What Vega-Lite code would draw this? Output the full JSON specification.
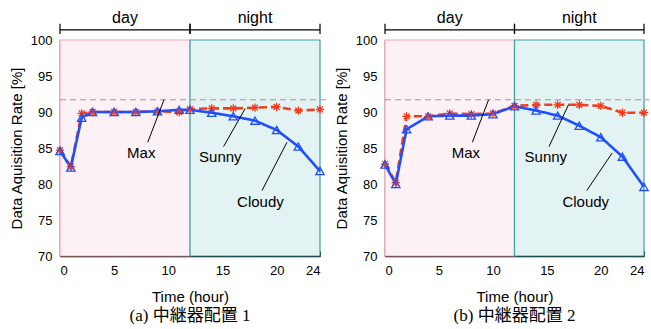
{
  "$schema": "https://vega.github.io/schema/vega-lite/v6.json",
  "background": "white",
  "padding": {"left": 9, "top": 9, "right": 0, "bottom": 0},
  "config": {
    "view": {"stroke": null},
    "axis": {
      "grid": false,
      "domainColor": "black",
      "domainWidth": 1.5,
      "tickColor": "black",
      "tickSize": -5,
      "labelFont": "Liberation Sans",
      "labelFontSize": 13,
      "labelColor": "black",
      "labelOverlap": false,
      "titleFont": "Liberation Sans",
      "titleFontSize": 15,
      "titleFontWeight": "normal",
      "titleColor": "black"
    },
    "axisX": {"labelPadding": 13, "titlePadding": 12},
    "axisY": {"labelPadding": 13, "titlePadding": 6}
  },
  "datasets": {
    "one": [{}],
    "periods": [
      {"period": "day", "start": 0, "end": 12},
      {"period": "night", "start": 12, "end": 24}
    ],
    "a": [
      {"hour": 0, "weather": "Sunny", "rate": 84.7},
      {"hour": 1, "weather": "Sunny", "rate": 82.4},
      {"hour": 2, "weather": "Sunny", "rate": 89.8},
      {"hour": 3, "weather": "Sunny", "rate": 90.0},
      {"hour": 5, "weather": "Sunny", "rate": 90.0},
      {"hour": 7, "weather": "Sunny", "rate": 90.0},
      {"hour": 9, "weather": "Sunny", "rate": 90.1},
      {"hour": 11, "weather": "Sunny", "rate": 90.0},
      {"hour": 12, "weather": "Sunny", "rate": 90.4},
      {"hour": 14, "weather": "Sunny", "rate": 90.5},
      {"hour": 16, "weather": "Sunny", "rate": 90.5},
      {"hour": 18, "weather": "Sunny", "rate": 90.6},
      {"hour": 20, "weather": "Sunny", "rate": 90.7},
      {"hour": 22, "weather": "Sunny", "rate": 90.2},
      {"hour": 24, "weather": "Sunny", "rate": 90.35},
      {"hour": 0, "weather": "Cloudy", "rate": 84.6},
      {"hour": 1, "weather": "Cloudy", "rate": 82.3},
      {"hour": 2, "weather": "Cloudy", "rate": 89.2},
      {"hour": 3, "weather": "Cloudy", "rate": 90.0},
      {"hour": 5, "weather": "Cloudy", "rate": 90.0},
      {"hour": 7, "weather": "Cloudy", "rate": 90.0},
      {"hour": 9, "weather": "Cloudy", "rate": 90.1},
      {"hour": 11, "weather": "Cloudy", "rate": 90.3},
      {"hour": 12, "weather": "Cloudy", "rate": 90.3},
      {"hour": 14, "weather": "Cloudy", "rate": 89.9},
      {"hour": 16, "weather": "Cloudy", "rate": 89.4},
      {"hour": 18, "weather": "Cloudy", "rate": 88.8},
      {"hour": 20, "weather": "Cloudy", "rate": 87.5},
      {"hour": 22, "weather": "Cloudy", "rate": 85.2},
      {"hour": 24, "weather": "Cloudy", "rate": 81.8}
    ],
    "b": [
      {"hour": 0, "weather": "Sunny", "rate": 82.8},
      {"hour": 1, "weather": "Sunny", "rate": 80.2},
      {"hour": 2, "weather": "Sunny", "rate": 89.4},
      {"hour": 4, "weather": "Sunny", "rate": 89.4},
      {"hour": 6, "weather": "Sunny", "rate": 89.8},
      {"hour": 8, "weather": "Sunny", "rate": 89.7},
      {"hour": 10, "weather": "Sunny", "rate": 89.8},
      {"hour": 12, "weather": "Sunny", "rate": 90.85},
      {"hour": 14, "weather": "Sunny", "rate": 91.0},
      {"hour": 16, "weather": "Sunny", "rate": 91.0},
      {"hour": 18, "weather": "Sunny", "rate": 91.0},
      {"hour": 20, "weather": "Sunny", "rate": 90.85},
      {"hour": 22, "weather": "Sunny", "rate": 89.9},
      {"hour": 24, "weather": "Sunny", "rate": 89.9},
      {"hour": 0, "weather": "Cloudy", "rate": 82.7},
      {"hour": 1, "weather": "Cloudy", "rate": 80.0},
      {"hour": 2, "weather": "Cloudy", "rate": 87.6},
      {"hour": 4, "weather": "Cloudy", "rate": 89.4},
      {"hour": 6, "weather": "Cloudy", "rate": 89.5},
      {"hour": 8, "weather": "Cloudy", "rate": 89.5},
      {"hour": 10, "weather": "Cloudy", "rate": 89.7},
      {"hour": 12, "weather": "Cloudy", "rate": 90.8},
      {"hour": 14, "weather": "Cloudy", "rate": 90.2},
      {"hour": 16, "weather": "Cloudy", "rate": 89.5},
      {"hour": 18, "weather": "Cloudy", "rate": 88.1},
      {"hour": 20, "weather": "Cloudy", "rate": 86.5},
      {"hour": 22, "weather": "Cloudy", "rate": 83.8},
      {"hour": 24, "weather": "Cloudy", "rate": 79.6}
    ]
  },
  "bounds": "flush",
  "spacing": 65,
  "hconcat": [
    {
      "width": 260,
      "height": 216,
      "title": {"text": "(a) 中継器配置 1", "orient": "bottom", "font": "Liberation Serif, Noto Sans CJK JP", "fontSize": 17, "fontWeight": "normal", "color": "black", "offset": 4},
      "layer": [
        {
          "data": {"name": "periods"},
          "mark": {"type": "rect", "strokeWidth": 1.2},
          "encoding": {
            "x": {"field": "start", "type": "quantitative", "title": "Time (hour)", "scale": {"domain": [0, 24], "nice": false, "zero": false}, "axis": {"values": [0, 5, 10, 15, 20, 24]}},
            "x2": {"field": "end"},
            "y": {"datum": 70, "type": "quantitative", "scale": {"domain": [70, 100], "nice": false, "zero": false}},
            "y2": {"datum": 100},
            "fill": {"field": "period", "type": "nominal", "scale": {"domain": ["day", "night"], "range": ["#fcf1f4", "#e3f3f3"]}, "legend": null},
            "stroke": {"field": "period", "type": "nominal", "scale": {"domain": ["day", "night"], "range": ["#f4a7b6", "#3e9f9f"]}, "legend": null}
          }
        },
        {
          "data": {"name": "one"},
          "mark": {"type": "rule", "strokeDash": [6, 4], "color": "#9a9a9a", "strokeWidth": 1.2, "clip": false},
          "encoding": {"x": {"datum": 0}, "x2": {"datum": 24.6}, "y": {"datum": 91.7}}
        },
        {
          "data": {"name": "a"},
          "mark": {"type": "line", "strokeWidth": 2.6},
          "encoding": {
            "x": {"field": "hour", "type": "quantitative", "title": "Time (hour)"},
            "y": {"field": "rate", "type": "quantitative", "title": "Data Aquisition Rate [%]", "axis": {"values": [70, 75, 80, 85, 90, 95, 100], "tickCount": 7, "labelOverlap": false}},
            "color": {"field": "weather", "type": "nominal", "scale": {"domain": ["Sunny", "Cloudy"], "range": ["#f23c1e", "#1f4fff"]}, "legend": null},
            "strokeDash": {"field": "weather", "type": "nominal", "scale": {"domain": ["Sunny", "Cloudy"], "range": [[8, 4], [1, 0]]}, "legend": null}
          }
        },
        {
          "data": {"name": "a"},
          "mark": {"type": "point", "filled": false, "size": 70, "strokeWidth": 1.3, "opacity": 1},
          "encoding": {
            "x": {"field": "hour", "type": "quantitative", "title": "Time (hour)"},
            "y": {"field": "rate", "type": "quantitative", "title": "Data Aquisition Rate [%]", "axis": {"values": [70, 75, 80, 85, 90, 95, 100], "tickCount": 7, "labelOverlap": false}},
            "color": {"field": "weather", "type": "nominal", "scale": {"domain": ["Sunny", "Cloudy"], "range": ["#f23c1e", "#1f4fff"]}, "legend": null},
            "shape": {"field": "weather", "type": "nominal", "scale": {"domain": ["Sunny", "Cloudy"], "range": ["M-1,0L1,0M0,-1L0,1M-0.7,-0.7L0.7,0.7M-0.7,0.7L0.7,-0.7", "triangle-up"]}, "legend": null}
          }
        },
        {
          "data": {"name": "one"},
          "mark": {"type": "rule", "color": "black", "strokeWidth": 1},
          "encoding": {"x": {"datum": 8.1}, "y": {"datum": 85.8}, "x2": {"datum": 9.6}, "y2": {"datum": 91.7}}
        },
        {
          "data": {"name": "one"},
          "mark": {"type": "rule", "color": "black", "strokeWidth": 1},
          "encoding": {"x": {"datum": 15.1}, "y": {"datum": 85.2}, "x2": {"datum": 17.1}, "y2": {"datum": 90.5}}
        },
        {
          "data": {"name": "one"},
          "mark": {"type": "rule", "color": "black", "strokeWidth": 1},
          "encoding": {"x": {"datum": 18.65}, "y": {"datum": 79.1}, "x2": {"datum": 20.95}, "y2": {"datum": 85.8}}
        },
        {
          "data": {"name": "one"},
          "mark": {"type": "text", "font": "Liberation Sans", "fontSize": 15, "baseline": "middle", "align": "center", "color": "black"},
          "encoding": {"x": {"datum": 7.5}, "y": {"datum": 84.3}, "text": {"value": "Max"}}
        },
        {
          "data": {"name": "one"},
          "mark": {"type": "text", "font": "Liberation Sans", "fontSize": 15, "baseline": "middle", "align": "center", "color": "black"},
          "encoding": {"x": {"datum": 14.8}, "y": {"datum": 83.7}, "text": {"value": "Sunny"}}
        },
        {
          "data": {"name": "one"},
          "mark": {"type": "text", "font": "Liberation Sans", "fontSize": 15, "baseline": "middle", "align": "center", "color": "black"},
          "encoding": {"x": {"datum": 18.5}, "y": {"datum": 77.5}, "text": {"value": "Cloudy"}}
        },
        {
          "data": {"name": "one"},
          "mark": {"type": "rule", "color": "black", "strokeWidth": 1.2, "clip": false},
          "encoding": {"x": {"datum": 0}, "x2": {"datum": 24}, "y": {"datum": 101.4}}
        },
        {
          "data": {"name": "periods"},
          "mark": {"type": "rule", "color": "black", "strokeWidth": 1.2, "clip": false},
          "encoding": {"x": {"field": "start", "type": "quantitative"}, "y": {"datum": 100.85}, "y2": {"datum": 102.25}}
        },
        {
          "data": {"name": "periods"},
          "mark": {"type": "rule", "color": "black", "strokeWidth": 1.2, "clip": false},
          "encoding": {"x": {"field": "end", "type": "quantitative"}, "y": {"datum": 100.85}, "y2": {"datum": 102.25}}
        },
        {
          "data": {"name": "one"},
          "mark": {"type": "text", "font": "Liberation Sans", "fontSize": 16, "baseline": "middle", "align": "center", "color": "black", "clip": false},
          "encoding": {"x": {"datum": 6}, "y": {"datum": 103.1}, "text": {"value": "day"}}
        },
        {
          "data": {"name": "one"},
          "mark": {"type": "text", "font": "Liberation Sans", "fontSize": 16, "baseline": "middle", "align": "center", "color": "black", "clip": false},
          "encoding": {"x": {"datum": 18}, "y": {"datum": 103.1}, "text": {"value": "night"}}
        }
      ]
    },
    {
      "width": 259,
      "height": 216,
      "title": {"text": "(b) 中継器配置 2", "orient": "bottom", "font": "Liberation Serif, Noto Sans CJK JP", "fontSize": 17, "fontWeight": "normal", "color": "black", "offset": 4},
      "layer": [
        {
          "data": {"name": "periods"},
          "mark": {"type": "rect", "strokeWidth": 1.2},
          "encoding": {
            "x": {"field": "start", "type": "quantitative", "title": "Time (hour)", "scale": {"domain": [0, 24], "nice": false, "zero": false}, "axis": {"values": [0, 5, 10, 15, 20, 24]}},
            "x2": {"field": "end"},
            "y": {"datum": 70, "type": "quantitative", "scale": {"domain": [70, 100], "nice": false, "zero": false}},
            "y2": {"datum": 100},
            "fill": {"field": "period", "type": "nominal", "scale": {"domain": ["day", "night"], "range": ["#fcf1f4", "#e3f3f3"]}, "legend": null},
            "stroke": {"field": "period", "type": "nominal", "scale": {"domain": ["day", "night"], "range": ["#f4a7b6", "#3e9f9f"]}, "legend": null}
          }
        },
        {
          "data": {"name": "one"},
          "mark": {"type": "rule", "strokeDash": [6, 4], "color": "#9a9a9a", "strokeWidth": 1.2, "clip": false},
          "encoding": {"x": {"datum": 0}, "x2": {"datum": 24.5}, "y": {"datum": 91.7}}
        },
        {
          "data": {"name": "b"},
          "mark": {"type": "line", "strokeWidth": 2.6},
          "encoding": {
            "x": {"field": "hour", "type": "quantitative", "title": "Time (hour)"},
            "y": {"field": "rate", "type": "quantitative", "title": "Data Aquisition Rate [%]", "axis": {"values": [70, 75, 80, 85, 90, 95, 100], "tickCount": 7, "labelOverlap": false}},
            "color": {"field": "weather", "type": "nominal", "scale": {"domain": ["Sunny", "Cloudy"], "range": ["#f23c1e", "#1f4fff"]}, "legend": null},
            "strokeDash": {"field": "weather", "type": "nominal", "scale": {"domain": ["Sunny", "Cloudy"], "range": [[8, 4], [1, 0]]}, "legend": null}
          }
        },
        {
          "data": {"name": "b"},
          "mark": {"type": "point", "filled": false, "size": 70, "strokeWidth": 1.3, "opacity": 1},
          "encoding": {
            "x": {"field": "hour", "type": "quantitative", "title": "Time (hour)"},
            "y": {"field": "rate", "type": "quantitative", "title": "Data Aquisition Rate [%]", "axis": {"values": [70, 75, 80, 85, 90, 95, 100], "tickCount": 7, "labelOverlap": false}},
            "color": {"field": "weather", "type": "nominal", "scale": {"domain": ["Sunny", "Cloudy"], "range": ["#f23c1e", "#1f4fff"]}, "legend": null},
            "shape": {"field": "weather", "type": "nominal", "scale": {"domain": ["Sunny", "Cloudy"], "range": ["M-1,0L1,0M0,-1L0,1M-0.7,-0.7L0.7,0.7M-0.7,0.7L0.7,-0.7", "triangle-up"]}, "legend": null}
          }
        },
        {
          "data": {"name": "one"},
          "mark": {"type": "rule", "color": "black", "strokeWidth": 1},
          "encoding": {"x": {"datum": 8.1}, "y": {"datum": 85.8}, "x2": {"datum": 9.6}, "y2": {"datum": 91.7}}
        },
        {
          "data": {"name": "one"},
          "mark": {"type": "rule", "color": "black", "strokeWidth": 1},
          "encoding": {"x": {"datum": 15.2}, "y": {"datum": 85.2}, "x2": {"datum": 17.0}, "y2": {"datum": 91.0}}
        },
        {
          "data": {"name": "one"},
          "mark": {"type": "rule", "color": "black", "strokeWidth": 1},
          "encoding": {"x": {"datum": 18.7}, "y": {"datum": 79.1}, "x2": {"datum": 21.05}, "y2": {"datum": 84.3}}
        },
        {
          "data": {"name": "one"},
          "mark": {"type": "text", "font": "Liberation Sans", "fontSize": 15, "baseline": "middle", "align": "center", "color": "black"},
          "encoding": {"x": {"datum": 7.5}, "y": {"datum": 84.3}, "text": {"value": "Max"}}
        },
        {
          "data": {"name": "one"},
          "mark": {"type": "text", "font": "Liberation Sans", "fontSize": 15, "baseline": "middle", "align": "center", "color": "black"},
          "encoding": {"x": {"datum": 14.9}, "y": {"datum": 83.7}, "text": {"value": "Sunny"}}
        },
        {
          "data": {"name": "one"},
          "mark": {"type": "text", "font": "Liberation Sans", "fontSize": 15, "baseline": "middle", "align": "center", "color": "black"},
          "encoding": {"x": {"datum": 18.6}, "y": {"datum": 77.5}, "text": {"value": "Cloudy"}}
        },
        {
          "data": {"name": "one"},
          "mark": {"type": "rule", "color": "black", "strokeWidth": 1.2, "clip": false},
          "encoding": {"x": {"datum": 0}, "x2": {"datum": 24}, "y": {"datum": 101.4}}
        },
        {
          "data": {"name": "periods"},
          "mark": {"type": "rule", "color": "black", "strokeWidth": 1.2, "clip": false},
          "encoding": {"x": {"field": "start", "type": "quantitative"}, "y": {"datum": 100.85}, "y2": {"datum": 102.25}}
        },
        {
          "data": {"name": "periods"},
          "mark": {"type": "rule", "color": "black", "strokeWidth": 1.2, "clip": false},
          "encoding": {"x": {"field": "end", "type": "quantitative"}, "y": {"datum": 100.85}, "y2": {"datum": 102.25}}
        },
        {
          "data": {"name": "one"},
          "mark": {"type": "text", "font": "Liberation Sans", "fontSize": 16, "baseline": "middle", "align": "center", "color": "black", "clip": false},
          "encoding": {"x": {"datum": 6}, "y": {"datum": 103.1}, "text": {"value": "day"}}
        },
        {
          "data": {"name": "one"},
          "mark": {"type": "text", "font": "Liberation Sans", "fontSize": 16, "baseline": "middle", "align": "center", "color": "black", "clip": false},
          "encoding": {"x": {"datum": 18}, "y": {"datum": 103.1}, "text": {"value": "night"}}
        }
      ]
    }
  ]
}
